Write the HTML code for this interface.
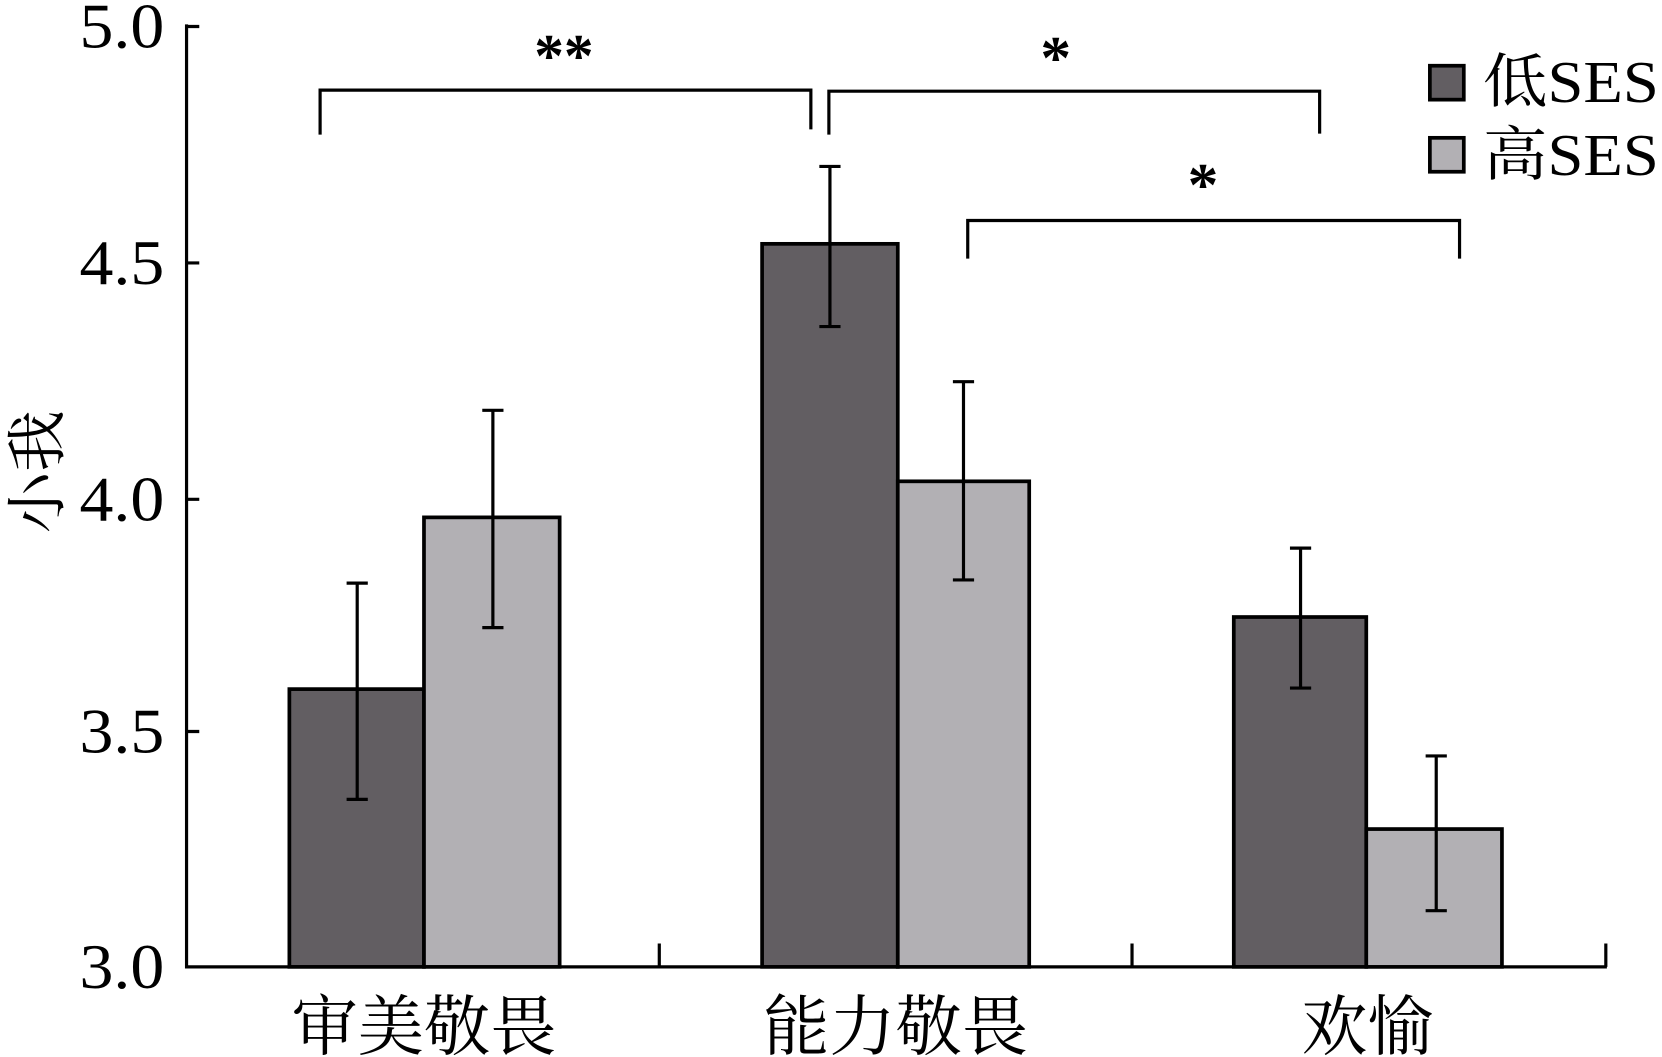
<!DOCTYPE html>
<html><head><meta charset="utf-8"><style>
html,body{margin:0;padding:0;background:#fff;}
svg{display:block;}
text{font-family:"Liberation Serif","Times New Roman","Noto Serif CJK SC","Noto Sans CJK SC",serif;fill:#000;}
</style></head><body>
<svg width="1662" height="1057" viewBox="0 0 1568 997" preserveAspectRatio="none" xmlns="http://www.w3.org/2000/svg">
<g stroke="#000" stroke-width="3" fill="none">
<path d="M176 23 V912 H1516"/>
<path d="M176 25 H188 M176 248 H188 M176 471 H188 M176 690 H188"/>
<path d="M622 890 V912 M1068 890 V912 M1515 890 V912"/>
</g>
<g stroke="#000" stroke-width="3.5">
<rect x="273" y="650" width="127" height="262" fill="#625e62"/>
<rect x="400" y="488" width="128" height="424" fill="#b2b0b4"/>
<rect x="719" y="230" width="128" height="682" fill="#625e62"/>
<rect x="847" y="454" width="124" height="458" fill="#b2b0b4"/>
<rect x="1164" y="582" width="125" height="330" fill="#625e62"/>
<rect x="1289" y="782" width="128" height="130" fill="#b2b0b4"/>
</g>
<g stroke="#000" stroke-width="3" fill="none">
<path d="M337 550 V754 M327 550 H347 M327 754 H347"/>
<path d="M465 387 V592 M455 387 H475 M455 592 H475"/>
<path d="M783 157 V308 M773 157 H793 M773 308 H793"/>
<path d="M909 360 V547 M899 360 H919 M899 547 H919"/>
<path d="M1227 517 V649 M1217 517 H1237 M1217 649 H1237"/>
<path d="M1355 713 V859 M1345 713 H1365 M1345 859 H1365"/>
<path d="M302 127 V85 H765 V122"/>
<path d="M782 127 V86 H1245 V126"/>
<path d="M913 244 V208 H1377 V244"/>
</g>
<g font-size="58" font-weight="bold" text-anchor="middle">
<text x="532" y="72" textLength="56" lengthAdjust="spacingAndGlyphs">**</text>
<text x="996" y="74">*</text>
<text x="1135" y="194">*</text>
</g>
<g font-size="60">
<text x="75" y="45" textLength="80" lengthAdjust="spacingAndGlyphs">5.0</text>
<text x="75" y="268" textLength="80" lengthAdjust="spacingAndGlyphs">4.5</text>
<text x="75" y="491" textLength="80" lengthAdjust="spacingAndGlyphs">4.0</text>
<text x="75" y="710" textLength="80" lengthAdjust="spacingAndGlyphs">3.5</text>
<text x="75" y="932" textLength="80" lengthAdjust="spacingAndGlyphs">3.0</text>
</g>
<g font-size="62">
<text x="275" y="990" textLength="250" lengthAdjust="spacingAndGlyphs">审美敬畏</text>
<text x="720" y="990" textLength="250" lengthAdjust="spacingAndGlyphs">能力敬畏</text>
<text x="1228" y="990" textLength="124" lengthAdjust="spacingAndGlyphs">欢愉</text>
</g>
<text transform="translate(55,445) rotate(-90)" font-size="58" text-anchor="middle">小我</text>
<rect x="1349" y="62" width="32" height="32" fill="#625e62" stroke="#000" stroke-width="3.5"/>
<rect x="1349" y="130" width="32" height="32" fill="#b2b0b4" stroke="#000" stroke-width="3.5"/>
<text x="1399" y="96" font-size="56" textLength="166" lengthAdjust="spacingAndGlyphs">低SES</text>
<text x="1399" y="165" font-size="56" textLength="166" lengthAdjust="spacingAndGlyphs">高SES</text>
</svg>
</body></html>
